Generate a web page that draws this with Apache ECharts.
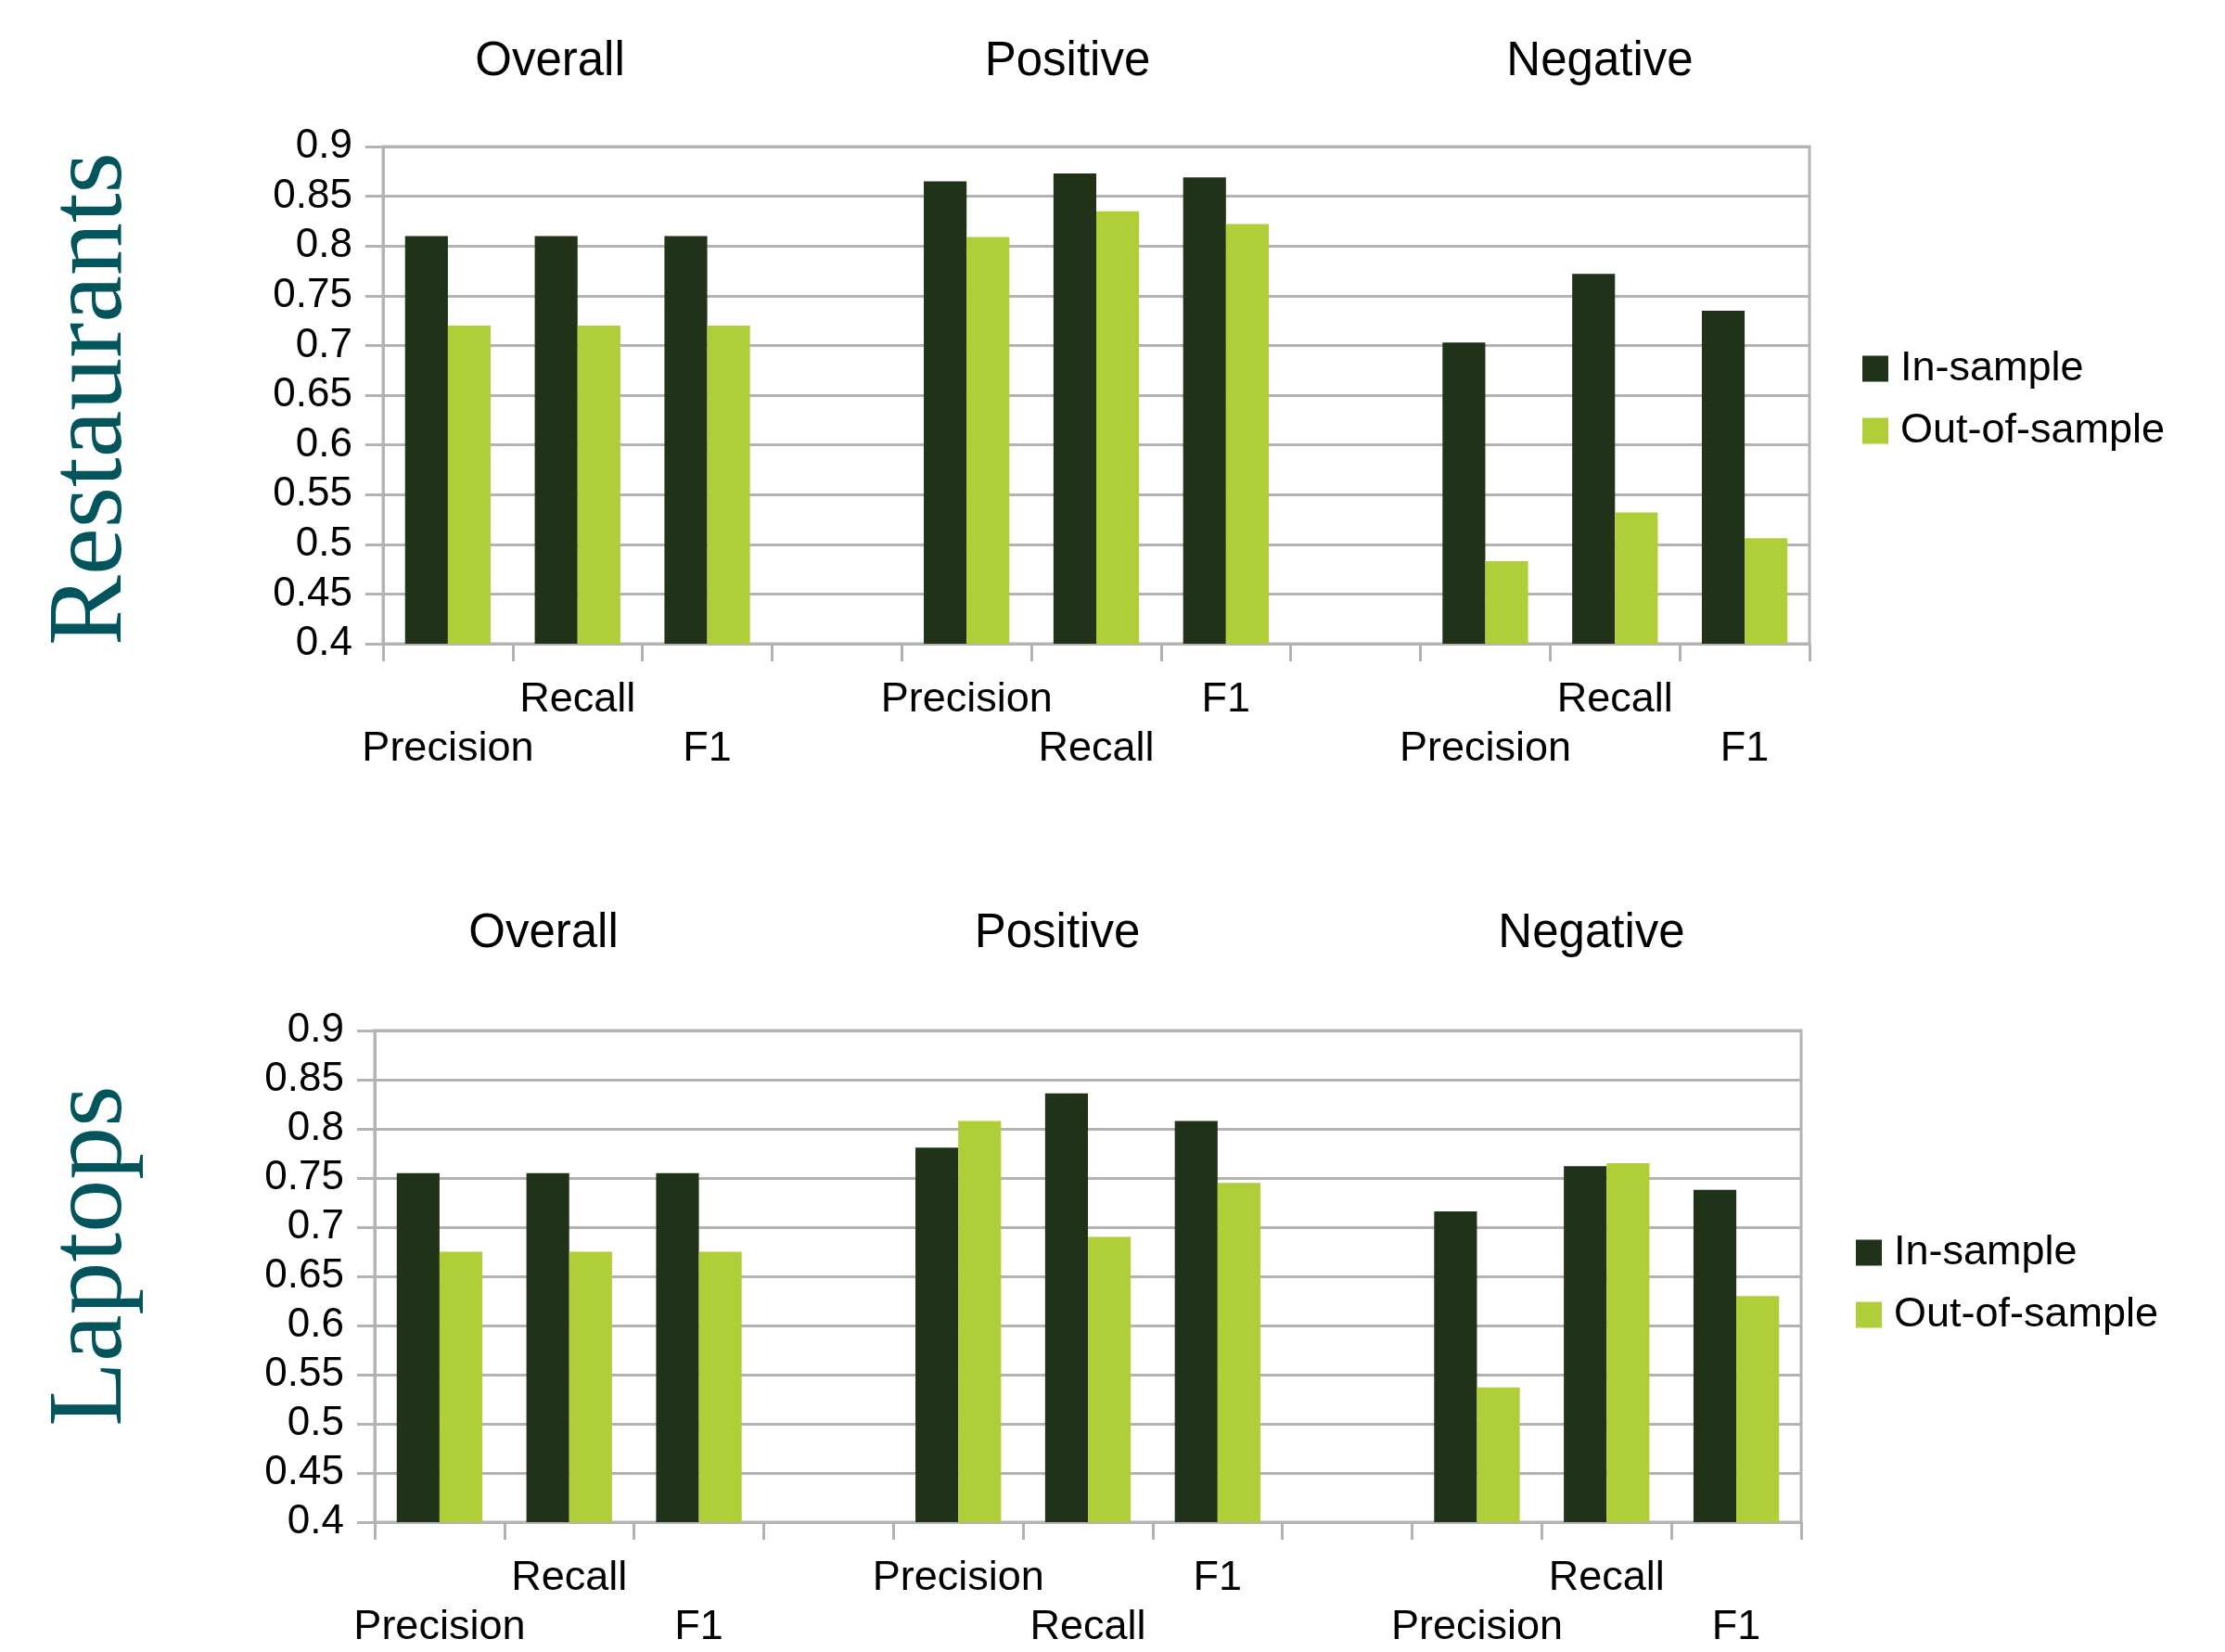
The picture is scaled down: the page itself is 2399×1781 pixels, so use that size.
<!DOCTYPE html>
<html>
<head>
<meta charset="utf-8">
<script src="https://cdn.jsdelivr.net/npm/echarts@6/dist/echarts.min.js"></script>
<style>
html,body{margin:0;padding:0;background:#fff;}
#chart{width:2399px;height:1781px;}
</style>
</head>
<body>
<div id="chart"></div>
<script>
// ---- data ----
const categories = ['Precision', 'Recall', 'F1', '', 'Precision', 'Recall', 'F1', '', 'Precision', 'Recall', 'F1'];
const groupTitles = ['Overall', 'Positive', 'Negative'];
const panelNames = ['Restaurants', 'Laptops'];
const seriesNames = ['In-sample', 'Out-of-sample'];
const restaurantsIn  = [0.81, 0.81, 0.81, null, 0.865, 0.873, 0.869, null, 0.703, 0.772, 0.735];
const restaurantsOut = [0.72, 0.72, 0.72, null, 0.809, 0.835, 0.822, null, 0.483, 0.532, 0.506];
const laptopsIn      = [0.755, 0.755, 0.755, null, 0.781, 0.836, 0.808, null, 0.716, 0.762, 0.738];
const laptopsOut     = [0.675, 0.675, 0.675, null, 0.808, 0.690, 0.745, null, 0.537, 0.765, 0.630];
const yMin = 0.4, yMax = 0.9, yStep = 0.05;

// ---- style / layout ----
const SANS = 'Liberation Sans';
const SERIF = 'Liberation Serif';
const GRAY = '#b3b3b3';
const DARK = '#203218';
const LIGHT = '#afce38';
const TEAL = '#02555d';

const panels = [
  { grid: { left: 413, top: 158, width: 1538, height: 536 }, legend: { left: 2003, top: 370 },
    name: { x: 100, y: 430 }, titleY: 67, titleX: [593, 1151, 1725], data: [restaurantsIn, restaurantsOut] },
  { grid: { left: 404, top: 1111, width: 1538, height: 537 }, legend: { left: 1996, top: 1323 },
    name: { x: 100, y: 1354 }, titleY: 1007, titleX: [586, 1140, 1716], data: [laptopsIn, laptopsOut] }
];

function xLabel(value, index) {
  if (!value) return '';
  let k = 0;
  for (let i = 0; i < index; i++) if (categories[i]) k++;
  return k % 2 === 1 ? value : '\n' + value;
}

const option = {
  backgroundColor: '#ffffff',
  animation: false,
  grid: panels.map(p => Object.assign({ show: true, borderColor: GRAY, borderWidth: 3, backgroundColor: 'transparent' }, p.grid)),
  xAxis: panels.map((p, i) => ({
    type: 'category', gridIndex: i, data: categories,
    axisLine: { show: true, lineStyle: { color: GRAY, width: 3 } },
    axisTick: { show: true, length: 19, interval: 0, lineStyle: { color: GRAY, width: 3 } },
    axisLabel: { interval: 0, formatter: xLabel, margin: 34, lineHeight: 53,
      fontFamily: SANS, fontSize: 45, color: '#000' },
    splitLine: { show: false }
  })),
  yAxis: panels.map((p, i) => ({
    type: 'value', gridIndex: i, min: yMin, max: yMax, interval: yStep,
    axisLine: { show: true, lineStyle: { color: GRAY, width: 3 } },
    axisTick: { show: true, length: 19, lineStyle: { color: GRAY, width: 3 } },
    axisLabel: { margin: 33, fontFamily: SANS, fontSize: 44, color: '#000',
      formatter: v => String(+v.toFixed(2)) },
    splitLine: { show: true, lineStyle: { color: GRAY, width: 3 } }
  })),
  legend: panels.map(p => ({
    data: seriesNames, orient: 'vertical', left: p.legend.left, top: p.legend.top,
    itemWidth: 28, itemHeight: 28, itemGap: 22, icon: 'rect',
    textStyle: { fontFamily: SANS, fontSize: 45, color: '#000', padding: [0, 0, 0, 8] }
  })),
  series: [],
  graphic: []
};

panels.forEach((p, i) => {
  p.data.forEach((vals, s) => {
    option.series.push({
      type: 'bar', name: seriesNames[s], xAxisIndex: i, yAxisIndex: i,
      data: vals, barGap: '0%', barCategoryGap: '34%',
      itemStyle: { color: s === 0 ? DARK : LIGHT }
    });
  });
  groupTitles.forEach((t, g) => {
    option.graphic.push({
      type: 'text', x: p.titleX[g], y: p.titleY,
      style: { text: t, font: '51px "' + SANS + '"', fill: '#000', textAlign: 'center', textVerticalAlign: 'middle' }
    });
  });
  option.graphic.push({
    type: 'text', x: p.name.x, y: p.name.y, rotation: Math.PI / 2,
    style: { text: panelNames[i], font: '114px "' + SERIF + '"', fill: TEAL, textAlign: 'center', textVerticalAlign: 'middle' }
  });
});

const chart = echarts.init(document.getElementById('chart'), null, { renderer: 'canvas' });
chart.setOption(option);
</script>
</body>
</html>
